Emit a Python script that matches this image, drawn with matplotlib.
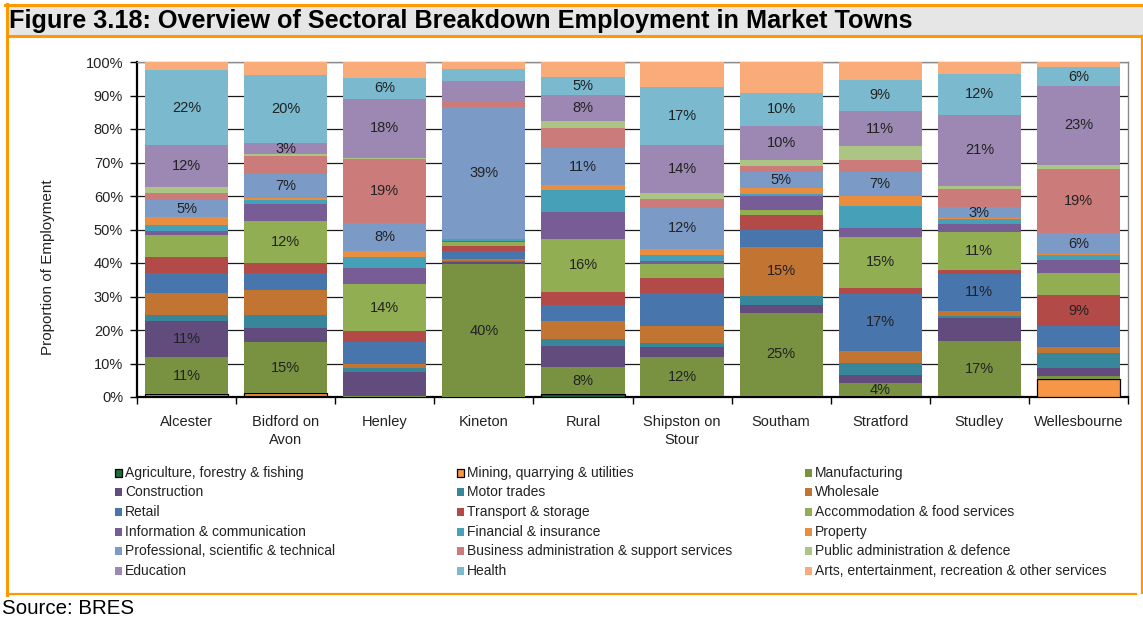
import matplotlib
matplotlib.use("Agg")
import matplotlib.pyplot as plt
from matplotlib.patches import Rectangle
from matplotlib.lines import Line2D
from matplotlib.ticker import MultipleLocator, FixedLocator, PercentFormatter
import numpy as np

plt.rcParams['font.family'] = ['Liberation Sans', 'DejaVu Sans']

towns = ["Alcester", "Bidford on\nAvon", "Henley", "Kineton", "Rural",
         "Shipston on\nStour", "Southam", "Stratford", "Studley", "Wellesbourne"]

sectors = [
    "Agriculture, forestry & fishing", "Mining, quarrying & utilities", "Manufacturing",
    "Construction", "Motor trades", "Wholesale",
    "Retail", "Transport & storage", "Accommodation & food services",
    "Information & communication", "Financial & insurance", "Property",
    "Professional, scientific & technical", "Business administration & support services",
    "Public administration & defence",
    "Education", "Health", "Arts, entertainment, recreation & other services",
]

sector_colors = [
    "#1F6B3A", "#F79646", "#789242",
    "#624C7E", "#378699", "#C27433",
    "#4775AC", "#B24A48", "#92AE53",
    "#775C96", "#46A0B8", "#E98E40",
    "#7C9AC6", "#CB7C7A", "#ACC484",
    "#9C88B2", "#7AB9CE", "#F9AB79",
]

# Share of employment (%) by sector, in the order of `sectors`
alcester     = [0.3, 0.5, 11.1, 10.8, 1.8, 6.6, 6.0, 4.8, 6.6, 1.2, 1.5, 2.4, 5.1, 2.2, 1.8, 12.4, 22.4, 2.5]
bidford      = [0.2, 1.0, 15.2, 4.2, 3.9, 7.5, 4.9, 3.2, 12.3, 5.1, 1.2, 0.6, 7.2, 5.3, 0.6, 3.4, 20.4, 3.8]
henley       = [0.1, 0.0, 0.3, 7.1, 1.2, 1.2, 6.6, 3.2, 13.9, 4.8, 3.3, 1.8, 8.4, 19.2, 0.3, 17.7, 6.0, 4.9]
kineton      = [0.0, 0.0, 39.6, 0.6, 0.5, 0.4, 2.6, 1.4, 1.1, 0.5, 0.4, 0.1, 39.3, 1.5, 0.1, 6.2, 3.7, 2.0]
rural        = [0.8, 0.0, 8.1, 6.3, 2.0, 5.5, 4.8, 3.9, 15.9, 7.8, 6.6, 1.6, 11.0, 6.0, 2.1, 7.8, 5.4, 4.4]
shipston     = [0.2, 0.0, 11.6, 3.1, 1.2, 5.1, 9.7, 4.7, 4.2, 0.9, 1.8, 1.8, 12.0, 2.7, 1.9, 14.4, 17.1, 7.6]
southam      = [0.3, 0.0, 24.8, 2.4, 2.7, 14.7, 5.1, 4.2, 1.5, 4.2, 0.6, 1.8, 4.8, 1.8, 1.8, 10.2, 9.9, 9.2]
stratford    = [0.3, 0.0, 3.8, 2.4, 3.6, 3.6, 17.1, 1.8, 15.3, 2.4, 6.6, 3.0, 7.4, 3.3, 4.2, 10.6, 9.3, 5.3]
studley      = [0.2, 0.0, 16.6, 6.9, 0.6, 1.5, 10.8, 1.2, 11.4, 2.4, 1.5, 0.3, 3.2, 5.4, 0.9, 21.4, 12.0, 3.7]
wellesbourne = [0.1, 5.2, 0.9, 2.5, 4.5, 1.8, 6.3, 9.0, 6.6, 3.9, 1.5, 0.3, 6.4, 19.2, 1.2, 23.4, 5.6, 1.6]

# Segments that carry a value label (sector indices per town)
labelled = [
    [2, 3, 12, 15, 16],
    [2, 8, 12, 15, 16],
    [8, 12, 13, 15, 16],
    [2, 12],
    [2, 8, 12, 15, 16],
    [2, 12, 15, 16],
    [2, 5, 12, 15, 16],
    [2, 6, 8, 12, 15, 16],
    [2, 6, 8, 12, 15, 16],
    [7, 12, 13, 15, 16],
]

shares = np.array([alcester, bidford, henley, kineton, rural,
                   shipston, southam, stratford, studley, wellesbourne])

W, H = 1143, 624
fig = plt.figure(figsize=(W / 100, H / 100), dpi=100)
fig.patch.set_facecolor("white")

# Frame, title band and borders drawn in pixel space
bg = fig.add_axes([0, 0, 1, 1], zorder=0)
bg.set_xlim(0, W)
bg.set_ylim(H, 0)
bg.axis("off")
orange = "#FF9900"
bg.add_patch(Rectangle((7, 5), W - 7, 31, facecolor="#E6E6E6", edgecolor="none"))
bg.add_line(Line2D([5, W], [5, 5], color=orange, lw=2.2))
bg.add_line(Line2D([7, W], [36, 36], color=orange, lw=2.2))
bg.add_line(Line2D([7, 7], [4, 595], color=orange, lw=2.2))
bg.add_line(Line2D([7, 1136], [594, 594], color=orange, lw=1.6))
bg.add_line(Line2D([1141.5, 1141.5], [36, 593], color=orange, lw=1.6))
bg.text(9, 21, "Figure 3.18: Overview of Sectoral Breakdown Employment in Market Towns",
        fontsize=18.2, fontweight="bold", color="black", va="center", ha="left")
bg.text(2, 608, "Source: BRES", fontsize=14.8, color="black", va="center", ha="left")

# Chart area
ax_l, ax_r, ax_t, ax_b = 137, 1128, 62, 397
ax = fig.add_axes([ax_l / W, 1 - ax_b / H, (ax_r - ax_l) / W, (ax_b - ax_t) / H], zorder=2)
ax.set_facecolor("none")

x = np.arange(len(towns))
bottom = np.zeros(len(towns))
for j, (name, col) in enumerate(zip(sectors, sector_colors)):
    vals = shares[:, j]
    outlined = j in (0, 1)
    ax.bar(x, vals, width=0.84, bottom=bottom, color=col,
           edgecolor="black" if outlined else "none",
           linewidth=0.9 if outlined else 0, zorder=3)
    for i in range(len(towns)):
        if j in labelled[i]:
            ax.text(x[i], bottom[i] + vals[i] / 2, f"{vals[i]:.0f}%",
                    ha="center", va="center", fontsize=10.5, color="#222222", zorder=4)
    bottom += vals

ax.set_xlim(-0.5, len(towns) - 0.5)
ax.set_ylim(0, 100)
ax.yaxis.set_major_locator(MultipleLocator(10))
ax.yaxis.set_major_formatter(PercentFormatter(decimals=0))
ax.grid(axis="y", color="#1a1a1a", linewidth=0.9, zorder=1)
ax.set_axisbelow(True)

ax.set_xticks(x)
ax.set_xticklabels(towns, fontsize=10.5, color="#222222", linespacing=1.35)
ax.xaxis.set_minor_locator(FixedLocator(np.arange(-0.5, len(towns), 1.0)))
ax.tick_params(axis="x", which="major", length=0, pad=13)
ax.tick_params(axis="x", which="minor", length=5, width=1, direction="out", color="black")
ax.tick_params(axis="y", length=5, width=1, direction="out", labelsize=10.5,
               labelcolor="#222222", pad=5)

for side in ("left", "bottom"):
    ax.spines[side].set_color("black")
    ax.spines[side].set_linewidth(1.6)
for side in ("top", "right"):
    ax.spines[side].set_color("#8C8C8C")
    ax.spines[side].set_linewidth(1.0)

ax.set_ylabel("Proportion of Employment", fontsize=11, color="#222222")
ax.yaxis.set_label_coords((55 - ax_l) / (ax_r - ax_l), (ax_b - 267) / (ax_b - ax_t))

# Legend laid out row by row in three columns
col_x = [118, 460, 808]
row_y = [473, 492, 512, 532, 551, 571]
for k, (name, col) in enumerate(zip(sectors, sector_colors)):
    r, c = divmod(k, 3)
    sx, sy = col_x[c], row_y[r]
    outlined = k in (0, 1)
    bg.add_patch(Rectangle((sx - 3, sy - 4), 6.5, 8, facecolor=col,
                           edgecolor="black" if outlined else "none",
                           linewidth=0.9 if outlined else 0))
    bg.text(sx + 7, sy, name, fontsize=10, color="#222222", va="center", ha="left")

fig.savefig("out.png", dpi=100)
